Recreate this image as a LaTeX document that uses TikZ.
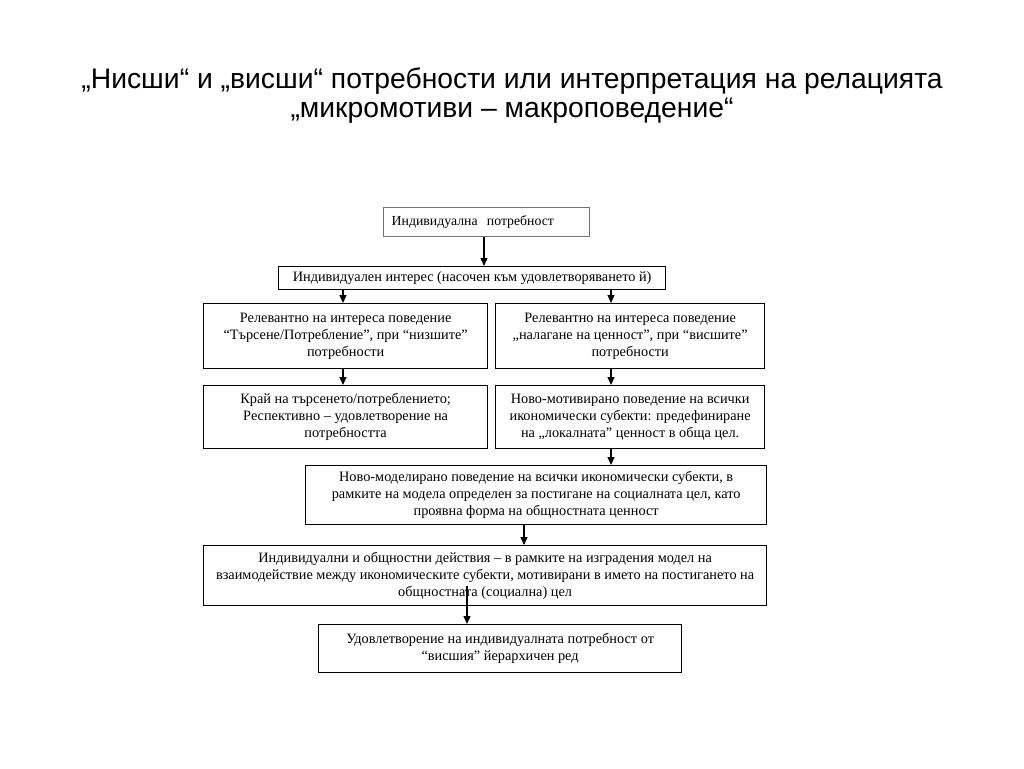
\documentclass[tikz,border=0pt]{standalone}
\usepackage{fontspec}
\setmainfont{Liberation Serif}
\newfontfamily\titlefont{Liberation Sans}
\usetikzlibrary{arrows.meta, positioning}

\begin{document}
\begin{tikzpicture}[
    x=1pt, y=-1pt,
    every node/.style={draw, align=center, font=\fontsize{14.3}{17}\selectfont, inner sep=0pt, anchor=north west},
    >={Triangle[length=8pt, width=7pt]},
    line width=1.3pt
]
    \useasboundingbox (0,0) rectangle (1024,768);
    \node[draw=none, anchor=center, font=\titlefont\fontsize{28.3}{29}\selectfont] (title) at (512,96)
        {„Нисши“ и „висши“ потребности или интерпретация на релацията\\„микромотиви – макроповедение“};

    \node[draw=black!55, minimum width=206pt, minimum height=29pt, align=left, text width=190pt, font=\fontsize{13.8}{15}\selectfont] (need) at (383,207) {Индивидуална~~потребност};
    \node[minimum width=387pt, minimum height=23pt] (interest) at (278,266) {Индивидуален интерес (насочен към удовлетворяването й)};
    \node[minimum width=284pt, minimum height=65pt] (lower) at (203,303) {Релевантно на интереса поведение\\“Търсене/Потребление”, при “низшите”\\потребности};
    \node[minimum width=269pt, minimum height=65pt] (higher) at (495,303) {Релевантно на интереса поведение\\„налагане на ценност”, при “висшите”\\потребности};
    \node[minimum width=284pt, minimum height=63pt] (end) at (203,385) {Край на търсенето/потреблението;\\Респективно – удовлетворение на\\потребността};
    \node[minimum width=269pt, minimum height=63pt] (newmot) at (495,385) {Ново-мотивирано поведение на всички\\икономически субекти: предефиниране\\на „локалната” ценност в обща цел.};
    \node[minimum width=461pt, minimum height=59pt] (newmod) at (305,465) {Ново-моделирано поведение на всички икономически субекти, в\\рамките на модела определен за постигане на социалната цел, като\\проявна форма на общностната ценност};
    \node[minimum width=563pt, minimum height=60pt] (actions) at (203,545) {Индивидуални и общностни действия – в рамките на изградения модел на\\взаимодействие между икономическите субекти, мотивирани в името на постигането на\\общностната (социална) цел};
    \node[minimum width=363pt, minimum height=48pt] (satisf) at (318,624) {Удовлетворение на индивидуалната потребност от\\“висшия” йерархичен ред};

    \draw[->] (need.south -| 484,0) -- (interest.north -| 484,0);
    \draw[->] (interest.south -| 343,0) -- (lower.north -| 343,0);
    \draw[->] (interest.south -| 611,0) -- (higher.north -| 611,0);
    \draw[->] (lower.south -| 343,0) -- (end.north -| 343,0);
    \draw[->] (higher.south -| 611,0) -- (newmot.north -| 611,0);
    \draw[->] (newmot.south -| 611,0) -- (newmod.north -| 611,0);
    \draw[->] (newmod.south -| 524,0) -- (actions.north -| 524,0);
    \draw[->] ([yshift=20pt]actions.south -| 467,0) -- (satisf.north -| 467,0);
\end{tikzpicture}
\end{document}
